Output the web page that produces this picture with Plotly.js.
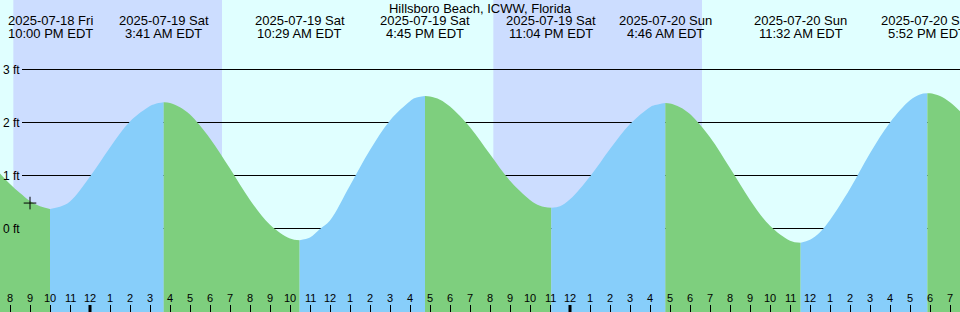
<!DOCTYPE html>
<html><head><meta charset="utf-8">
<script src="https://cdn.plot.ly/plotly-3.0.1.min.js"></script>
<style>html,body{margin:0;padding:0;background:#fff;overflow:hidden}#chart{width:960px;height:312px}</style>
</head><body><div id="chart"></div>
<script>
const chartTitle = 'Hillsboro Beach, ICWW, Florida';

// Tide curve (ft), EDT
const curveTimes = [
 '2025-07-18 19:30','2025-07-18 20:00','2025-07-18 20:30','2025-07-18 21:00','2025-07-18 21:30','2025-07-18 22:00','2025-07-18 22:30','2025-07-18 23:00',
 '2025-07-19 00:00','2025-07-19 01:00','2025-07-19 02:00','2025-07-19 03:00','2025-07-19 03:15','2025-07-19 03:41','2025-07-19 04:00','2025-07-19 04:30','2025-07-19 05:00','2025-07-19 06:00','2025-07-19 07:00','2025-07-19 08:00','2025-07-19 09:00','2025-07-19 10:00','2025-07-19 10:29','2025-07-19 11:00','2025-07-19 11:30','2025-07-19 12:00','2025-07-19 13:00','2025-07-19 14:00','2025-07-19 15:00','2025-07-19 16:00','2025-07-19 16:15','2025-07-19 16:45','2025-07-19 17:00','2025-07-19 17:30','2025-07-19 18:00','2025-07-19 19:00','2025-07-19 20:00','2025-07-19 21:00','2025-07-19 22:00','2025-07-19 22:30','2025-07-19 23:04','2025-07-19 23:30',
 '2025-07-20 00:00','2025-07-20 01:00','2025-07-20 02:00','2025-07-20 03:00','2025-07-20 04:00','2025-07-20 04:15','2025-07-20 04:46','2025-07-20 05:00','2025-07-20 05:30','2025-07-20 06:00','2025-07-20 07:00','2025-07-20 08:00','2025-07-20 09:00','2025-07-20 10:00','2025-07-20 11:00','2025-07-20 11:32','2025-07-20 12:00','2025-07-20 12:30','2025-07-20 13:00','2025-07-20 14:00','2025-07-20 15:00','2025-07-20 16:00','2025-07-20 17:00','2025-07-20 17:30','2025-07-20 17:52','2025-07-20 18:00','2025-07-20 18:30','2025-07-20 19:00','2025-07-20 19:30'
];
const curveFeet = [
 1.04,0.84,0.67,0.52,0.42,0.37,0.41,0.51,
 0.98,1.53,2.02,2.31,2.35,2.38,2.37,2.29,2.15,1.70,1.13,0.54,0.07,-0.19,-0.22,-0.17,-0.01,0.15,0.81,1.48,2.04,2.40,2.46,2.50,2.49,2.43,2.30,1.91,1.40,0.90,0.54,0.43,0.39,0.42,
 0.55,0.98,1.50,1.97,2.29,2.33,2.37,2.36,2.29,2.16,1.72,1.14,0.54,0.05,-0.23,-0.27,-0.21,-0.07,0.16,0.75,1.42,2.00,2.42,2.53,2.55,2.55,2.50,2.38,2.21
];

// High / low tide events
const eventTimes = ['2025-07-18 22:00','2025-07-19 03:41','2025-07-19 10:29','2025-07-19 16:45','2025-07-19 23:04','2025-07-20 04:46','2025-07-20 11:32','2025-07-20 17:52'];
const eventDates = ['2025-07-18 Fri','2025-07-19 Sat','2025-07-19 Sat','2025-07-19 Sat','2025-07-19 Sat','2025-07-20 Sun','2025-07-20 Sun','2025-07-20 Sun'];
const eventClock = ['10:00 PM EDT','3:41 AM EDT','10:29 AM EDT','4:45 PM EDT','11:04 PM EDT','4:46 AM EDT','11:32 AM EDT','5:52 PM EDT'];

// Night periods
const nightStart = ['2025-07-18 20:10','2025-07-19 20:10'];
const nightEnd   = ['2025-07-19 06:36','2025-07-20 06:36'];

// Axis ticks
const yTicks = [0,1,2,3];
const yTickLabels = ['0 ft','1 ft','2 ft','3 ft'];
const hourTickStart = '2025-07-18 20:00';
const hourLabels = ['8','9','10','11',
 '12','1','2','3','4','5','6','7','8','9','10','11',
 '12','1','2','3','4','5','6','7','8','9','10','11',
 '12','1','2','3','4','5','6','7','8','9','10','11',
 '12','1','2','3','4','5','6','7'];

// Current-time marker
const nowTime = ['2025-07-18 21:00'];
const nowFeet = [0.48];

const xRange = ['2025-07-18 19:30','2025-07-20 19:30'];
const yRange = [-1.5755, 4.3113];

const DAY = '#e0ffff', NIGHT = '#ccddff', RISE = '#87cefa', FALL = '#7ecf7e';
const FONT = '"Liberation Sans", Arial, sans-serif';
const H = 312, W = 960;

function pad(n){return (n<10?'0':'')+n;}
function addHours(s, h){
  const m = s.match(/(\d+)-(\d+)-(\d+) (\d+):(\d+)/);
  const d = new Date(Date.UTC(+m[1], +m[2]-1, +m[3], +m[4], +m[5]) + h*3600000);
  return d.getUTCFullYear()+'-'+pad(d.getUTCMonth()+1)+'-'+pad(d.getUTCDate())+' '+pad(d.getUTCHours())+':'+pad(d.getUTCMinutes());
}
const hourTimes = hourLabels.map((_, i) => addHours(hourTickStart, i));

// split curve into rising / falling segments at the events
const cut = [0];
eventTimes.forEach(t => { const i = curveTimes.indexOf(t); if (i > 0) cut.push(i); });
cut.push(curveTimes.length - 1);
const traces = [];
for (let k = 0; k < cut.length - 1; k++) {
  const a = cut[k], b = cut[k+1];
  const xs = curveTimes.slice(a, b+1), ys = curveFeet.slice(a, b+1);
  const color = ys[ys.length-1] >= ys[0] ? RISE : FALL;
  traces.push({x:[xs[0], xs[xs.length-1]], y:[yRange[0]-1, yRange[0]-1], mode:'lines', line:{width:0}, hoverinfo:'skip', showlegend:false});
  traces.push({x:xs, y:ys, mode:'lines', line:{width:0, shape:'spline', smoothing:1}, fill:'tonexty', fillcolor:color, hoverinfo:'skip', showlegend:false});
}
traces.push({x:nowTime, y:nowFeet, mode:'markers', marker:{symbol:'cross-thin', size:9, color:'#000', line:{width:1, color:'#000'}}, showlegend:false, hoverinfo:'skip'});

const shapes = [];
nightStart.forEach((s, i) => shapes.push({type:'rect', xref:'x', yref:'paper', x0:s, x1:nightEnd[i], y0:0, y1:1, fillcolor:NIGHT, line:{width:0}, layer:'below'}));
yTicks.forEach(v => shapes.push({type:'line', xref:'paper', yref:'y', x0:22/W, x1:1, y0:v, y1:v, line:{color:'#000', width:1}, layer:'below'}));
hourTimes.forEach(t => { if (t.endsWith('00:00')) shapes.push({type:'line', xref:'x', yref:'paper', x0:t, x1:t, y0:0, y1:7/H, line:{color:'#000', width:3}, layer:'above'}); });

const ann = [];
eventTimes.forEach((t, i) => {
  ann.push({x:t, xref:'x', y:1-20.4/H, yref:'paper', text:eventDates[i], showarrow:false, xanchor:'center', yanchor:'middle', font:{size:13, color:'#000', family:FONT}});
  ann.push({x:t, xref:'x', y:1-33.8/H, yref:'paper', text:eventClock[i], showarrow:false, xanchor:'center', yanchor:'middle', font:{size:13, color:'#000', family:FONT}});
});
yTicks.forEach((v, i) => ann.push({x:0, xref:'paper', y:v, yref:'y', text:yTickLabels[i], showarrow:false, xanchor:'left', yanchor:'middle', xshift:1, font:{size:12, color:'#000', family:FONT}}));
hourTimes.forEach((t, i) => ann.push({x:t, xref:'x', y:14/H, yref:'paper', text:hourLabels[i], showarrow:false, xanchor:'center', yanchor:'middle', font:{size:11, color:'#000', family:FONT}}));

const layout = {
  width:W, height:H,
  margin:{l:0, r:0, t:0, b:0, pad:0},
  paper_bgcolor:DAY, plot_bgcolor:DAY,
  showlegend:false,
  font:{family:FONT, size:12, color:'#000'},
  title:{text:chartTitle, x:0.5, xanchor:'center', y:1-8/H, yanchor:'middle', yref:'container', font:{size:13, color:'#000', family:FONT}},
  xaxis:{type:'date', range:xRange, showgrid:false, zeroline:false, showline:false, tickmode:'array', tickvals:hourTimes, ticks:'inside', ticklen:7, tickwidth:1, tickcolor:'#000', showticklabels:false, fixedrange:true},
  yaxis:{range:yRange, showgrid:false, zeroline:false, showline:false, showticklabels:false, ticks:'', fixedrange:true},
  shapes:shapes,
  annotations:ann
};
Plotly.newPlot('chart', traces, layout, {staticPlot:true, displayModeBar:false});
</script>
</body></html>
